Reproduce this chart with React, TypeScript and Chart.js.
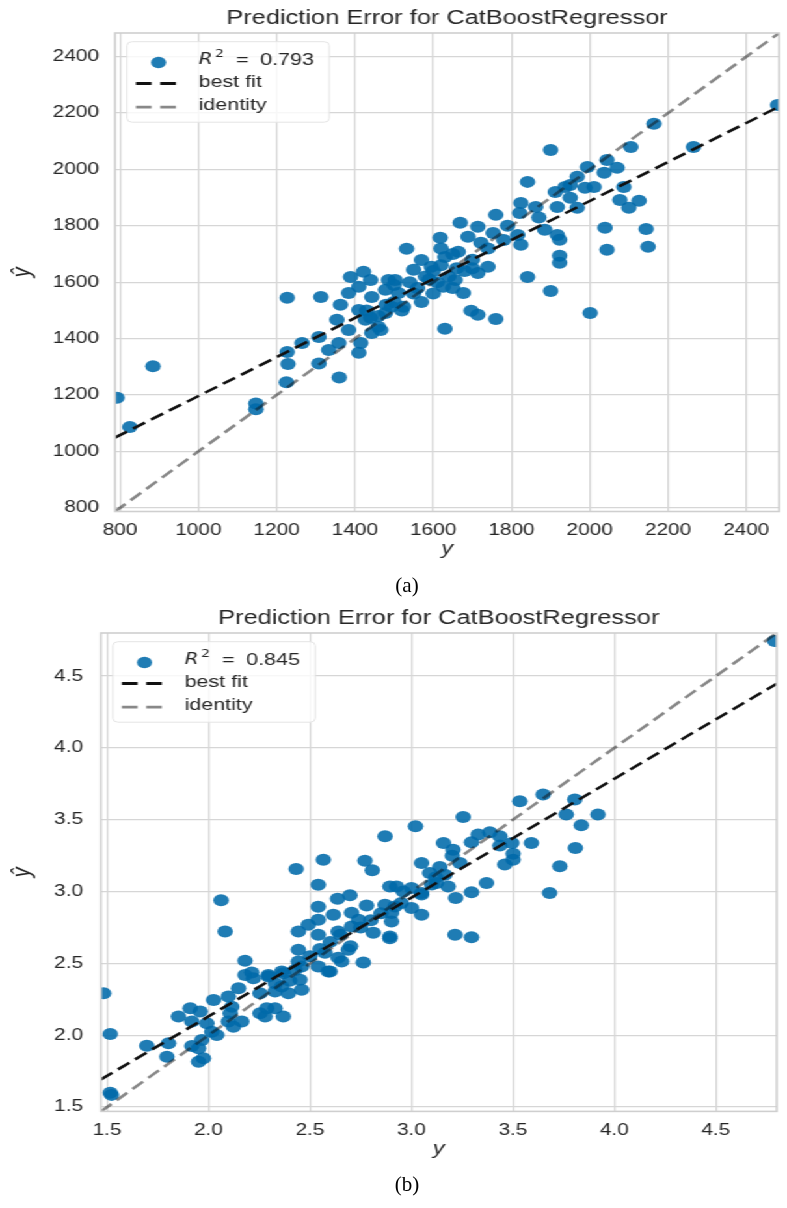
import React, { useEffect, useRef } from "react";
import { Chart, registerables } from "chart.js";

Chart.register(...registerables);

// ---------------- Panel (a) data ----------------
const aActual = [
  792, 825, 884, 1147, 1147, 1227, 1313, 1227, 1229, 1225, 1265, 1308, 1308, 1360, 1354, 1333, 1359, 1384, 1410, 1410,
  1415, 1389, 1422, 1384, 1363, 1410, 1443, 1440, 1478, 1486, 1503, 1440, 1460, 1443, 1478, 1493, 1427,
  1841, 1912, 1950, 1988, 2011, 2087, 2077, 2126, 2100, 1968, 1917, 1824, 1821, 1862, 1760, 1669, 1714, 1618, 1689,
  1753, 1816, 1885, 1917, 1923, 2039, 2144, 2044, 2149, 1923, 1923, 1532, 1570, 1595, 1550, 1630, 1664, 1722, 1740,
  1714, 1656, 1626, 1677, 1570, 1500, 1511, 1524, 1466, 1841, 1900, 2001, 1697, 1714, 1760, 1630, 1824,
  2164, 2105, 2265, 2480, 1900, 1994, 2044, 2070, 2037, 1968, 1937,
  1500, 1540, 1560, 1580, 1600, 1610, 1620, 1640, 1650, 1660, 1680, 1700, 1740, 1780, 1600, 1460, 1480, 1520, 1700,
  1650, 1590, 1790, 1870, 1950, 1430, 1550, 1620,
];
const aPredicted = [
  1190, 1087, 1302, 1170, 1150, 1545, 1548, 1353, 1310, 1245, 1385, 1406, 1312, 1262, 1467, 1360, 1385, 1431, 1502, 1350,
  1385, 1619, 1637, 1562, 1520, 1584, 1548, 1608, 1573, 1608, 1608, 1474, 1442, 1420, 1491, 1513, 1467,
  1956, 1920, 1945, 1935, 1938, 1938, 1892, 1889, 1864, 1864, 1867, 1881, 1846, 1867, 1839, 1811, 1797, 1758, 1761,
  1775, 1768, 1786, 1768, 1751, 1793, 1789, 1715, 1726, 1694, 1669, 1719, 1679, 1655, 1644, 1690, 1708, 1740, 1655,
  1633, 1608, 1584, 1562, 1530, 1590, 1562, 1513, 1431, 1619, 1569, 1491, 1499, 1485, 1470, 1435, 1733,
  2162, 2080, 2080, 2229, 2069, 2009, 2034, 2006, 1988, 1974, 1938,
  1530, 1600, 1580, 1620, 1640, 1600, 1660, 1620, 1580, 1650, 1640, 1680, 1720, 1750, 1560, 1480, 1520, 1500, 1650,
  1700, 1610, 1800, 1830, 1900, 1500, 1560, 1720,
];
const aBestFitX = [787, 2484];
const aBestFitY = [1049, 2223];
const aLimits = [787, 2484];
const aTicks = [800, 1000, 1200, 1400, 1600, 1800, 2000, 2200, 2400];
const aR2 = "0.793";

// ---------------- Panel (b) data ----------------
const bActual = [
  2.062, 2.082, 2.432, 2.566, 2.541, 2.541, 2.541, 2.870, 2.771, 2.807, 2.636, 2.697, 2.615, 2.705, 2.779, 2.894,
  2.443, 2.541, 2.492, 2.639, 2.705, 2.739, 2.812, 2.894, 2.763, 2.443, 2.180, 2.213, 2.443, 2.599, 2.541, 2.689,
  2.574, 2.639, 2.361, 2.295,
  3.534, 3.649, 3.805, 3.919, 3.763, 3.837, 3.255, 3.020, 3.158, 3.329, 3.386, 3.436, 3.296, 3.495, 3.591, 3.436,
  3.808, 3.205, 3.201, 3.501, 3.501, 3.460, 3.731, 3.050, 3.140, 3.239, 3.090, 3.165, 2.927, 3.000, 3.124, 3.181,
  3.050, 3.370, 3.296, 3.218, 3.681, 2.870, 2.919, 3.000, 3.050, 2.902, 2.902, 3.215, 3.296, 2.894,
  1.483, 1.516, 1.516, 1.522, 1.696, 1.803, 1.795, 1.852, 1.910, 1.918, 1.959, 1.992, 2.025, 2.016, 2.041, 1.918,
  1.951, 1.975, 1.951, 1.967, 2.098, 2.115, 2.107, 2.148, 2.098, 2.123, 2.164, 2.180, 2.221, 2.254, 2.287, 2.279,
  2.328, 2.369, 2.254, 2.295, 2.328, 2.361, 2.394, 2.369, 2.427, 2.459, 2.451, 2.459, 2.590, 2.656, 4.790,
  2.55, 2.60, 2.65, 2.70, 2.75, 2.80, 2.85, 2.95, 3.05, 3.10, 2.50, 2.40, 2.33, 2.96, 3.12,
];
const bPredicted = [
  2.939, 2.722, 3.158, 3.222, 3.048, 2.895, 2.804, 3.385, 3.215, 3.148, 2.950, 2.974, 2.839, 2.853, 2.904, 3.036,
  2.722, 2.699, 2.769, 2.722, 2.757, 2.804, 2.713, 2.688, 2.506, 2.595, 2.518, 2.437, 2.513, 2.443, 2.478, 2.595,
  2.574, 2.539, 2.443, 2.420,
  3.629, 3.676, 3.641, 3.536, 3.536, 3.462, 3.520, 3.455, 3.339, 3.397, 3.413, 3.385, 3.343, 3.339, 3.339, 3.320,
  3.304, 3.292, 3.250, 3.264, 3.222, 3.188, 3.176, 3.199, 3.171, 3.199, 3.130, 3.118, 3.036, 3.025, 3.060, 3.036,
  2.990, 3.060, 2.995, 2.955, 2.990, 2.909, 2.897, 2.886, 2.839, 2.851, 2.792, 2.699, 2.683, 2.676,
  2.293, 2.009, 1.600, 1.585, 1.927, 1.944, 1.851, 2.130, 2.188, 2.095, 2.165, 2.084, 2.246, 2.025, 2.002, 1.925,
  1.909, 1.840, 1.816, 1.967, 2.269, 2.199, 2.153, 2.328, 2.095, 2.060, 2.095, 2.420, 2.397, 2.153, 2.188, 2.130,
  2.188, 2.130, 2.293, 2.409, 2.304, 2.339, 2.293, 2.432, 2.455, 2.316, 2.386, 2.478, 2.443, 2.513, 4.745,
  2.60, 2.65, 2.70, 2.62, 2.75, 2.80, 2.85, 2.92, 2.98, 3.05, 2.55, 2.38, 2.36, 3.00, 3.10,
];
const bBestFitX = [1.47, 4.8];
const bBestFitY = [1.693, 4.447];
const bLimits = [1.47, 4.8];
const bTicks = [1.5, 2.0, 2.5, 3.0, 3.5, 4.0, 4.5];
const bR2 = "0.845";

const TITLE = "Prediction Error for CatBoostRegressor";
const X_TITLE = "y";
const Y_TITLE = "\u0177";

// ---------------- styling / geometry ----------------
const PAGE_W = 787;
const PAGE_H = 1208;
const CANVAS_W = 605;
const CANVAS_H = 565;
const STRETCH = PAGE_W / CANVAS_W;
const X_AXIS_H = 50;

const FONT = "'Liberation Sans', Arial, sans-serif";
const TEXT_COLOR = "#262626";
const GRID_COLOR = "#d6d6d6";
const FRAME_COLOR = "#cfcfcf";
const POINT_COLOR = "rgba(0,106,170,0.88)";
const POINT_R = 6;
const FIT_COLOR = "#111111";
const IDENT_COLOR = "rgba(17,17,17,0.5)";

const LEGEND = {
  box: [9.2, 8.7, 155.5, 80.5],
  marker: [33.5, 29.5],
  markerR: 5.8,
  textX: 64.3,
  rows: [27, 49.7, 72.9],
  lines: [50.5, 74.2],
  sampleX: [16.1, 46.8],
  sup: 12.5,
  eq: 28.8,
  val: 47.4,
};

type Panel = {
  top: number;
  actual: number[];
  predicted: number[];
  fitX: number[];
  fitY: number[];
  limits: number[];
  ticks: number[];
  decimals: number;
  r2: string;
  area: { left: number; right: number; bottom: number };
  yGap: number;
};

const panelA: Panel = {
  top: 0,
  actual: aActual,
  predicted: aPredicted,
  fitX: aBestFitX,
  fitY: aBestFitY,
  limits: aLimits,
  ticks: aTicks,
  decimals: 0,
  r2: aR2,
  area: { left: 88.4, right: 602, bottom: 511.5 },
  yGap: 2.3,
};

const panelB: Panel = {
  top: 600.3,
  actual: bActual,
  predicted: bPredicted,
  fitX: bBestFitX,
  fitY: bBestFitY,
  limits: bLimits,
  ticks: bTicks,
  decimals: 1,
  r2: bR2,
  area: { left: 77.6, right: 597.1, bottom: 511.4 },
  yGap: 3.8,
};

const framePlugin = {
  id: "frame",
  afterDatasetsDraw(chart: any) {
    const { ctx, chartArea: a } = chart;
    ctx.save();
    ctx.strokeStyle = FRAME_COLOR;
    ctx.lineWidth = 1.6;
    ctx.strokeRect(a.left, a.top, a.right - a.left, a.bottom - a.top);
    ctx.restore();
  },
};

function roundRectPath(ctx: CanvasRenderingContext2D, x: number, y: number, w: number, h: number, r: number) {
  ctx.beginPath();
  ctx.moveTo(x + r, y);
  ctx.lineTo(x + w - r, y);
  ctx.arcTo(x + w, y, x + w, y + r, r);
  ctx.lineTo(x + w, y + h - r);
  ctx.arcTo(x + w, y + h, x + w - r, y + h, r);
  ctx.lineTo(x + r, y + h);
  ctx.arcTo(x, y + h, x, y + h - r, r);
  ctx.lineTo(x, y + r);
  ctx.arcTo(x, y, x + r, y, r);
  ctx.closePath();
}

const legendPlugin = {
  id: "innerLegend",
  afterDatasetsDraw(chart: any, _args: any, opts: any) {
    const { ctx, chartArea: a } = chart;
    const L = LEGEND;
    const ds = chart.data.datasets;
    const ox = a.left;
    const oy = a.top;
    ctx.save();
    roundRectPath(ctx, ox + L.box[0], oy + L.box[1], L.box[2], L.box[3], 4);
    ctx.fillStyle = "rgba(255,255,255,0.8)";
    ctx.fill();
    ctx.strokeStyle = "#e4e4e4";
    ctx.lineWidth = 1;
    ctx.stroke();

    // scatter marker
    const pointDs = ds.find((d: any) => d.kind === "points");
    ctx.fillStyle = pointDs.backgroundColor;
    ctx.beginPath();
    ctx.arc(ox + L.marker[0], oy + L.marker[1], L.markerR, 0, Math.PI * 2);
    ctx.fill();

    ctx.fillStyle = TEXT_COLOR;
    ctx.textBaseline = "middle";
    ctx.textAlign = "left";
    const tx = ox + L.textX;
    // R^2 = value
    ctx.font = "italic 15.5px 'DejaVu Sans', sans-serif";
    ctx.fillText("R", tx, oy + L.rows[0]);
    ctx.font = "11px 'DejaVu Sans', sans-serif";
    ctx.fillText("2", tx + L.sup, oy + L.rows[0] - 6);
    ctx.font = `16.5px ${FONT}`;
    ctx.fillText("=", tx + L.eq, oy + L.rows[0]);
    ctx.fillText(opts.r2, tx + L.val, oy + L.rows[0]);

    // line entries
    const lineDs = ds.filter((d: any) => d.kind === "line");
    lineDs.forEach((d: any, i: number) => {
      const ly = oy + L.lines[i];
      ctx.save();
      ctx.strokeStyle = d.borderColor;
      ctx.lineWidth = 2.8;
      ctx.setLineDash([12, 6.7]);
      ctx.beginPath();
      ctx.moveTo(ox + L.sampleX[0], ly);
      ctx.lineTo(ox + L.sampleX[1], ly);
      ctx.stroke();
      ctx.restore();
      ctx.fillStyle = TEXT_COLOR;
      ctx.font = `16.5px ${FONT}`;
      ctx.fillText(d.label, tx, oy + L.rows[i + 1]);
    });
    ctx.restore();
  },
};

function buildConfig(p: Panel): any {
  const points = p.actual.map((x, i) => ({ x, y: p.predicted[i] }));
  const fit = p.fitX.map((x, i) => ({ x, y: p.fitY[i] }));
  const ident = p.limits.map((v) => ({ x: v, y: v }));
  const tickFont = { family: FONT, size: 16, lineHeight: 1 };
  const setTicks = (s: any) => {
    s.ticks = p.ticks.map((v) => ({ value: v }));
  };
  const fmt = (v: any) => Number(v).toFixed(p.decimals);
  return {
    type: "scatter",
    data: {
      datasets: [
        {
          kind: "line",
          label: "best fit",
          data: fit,
          showLine: true,
          borderColor: FIT_COLOR,
          borderWidth: 2.6,
          borderDash: [11, 5.5],
          pointRadius: 0,
          pointHoverRadius: 0,
          order: 0,
          clip: 0,
        },
        {
          kind: "line",
          label: "identity",
          data: ident,
          showLine: true,
          borderColor: IDENT_COLOR,
          borderWidth: 2.6,
          borderDash: [11, 5.5],
          pointRadius: 0,
          pointHoverRadius: 0,
          order: 1,
          clip: 0,
        },
        {
          kind: "points",
          label: "R2 = " + p.r2,
          data: points,
          backgroundColor: POINT_COLOR,
          borderWidth: 0,
          pointBorderWidth: 0,
          pointRadius: POINT_R,
          pointHoverRadius: POINT_R,
          order: 2,
          clip: 0,
        },
      ],
    },
    options: {
      responsive: false,
      animation: false,
      devicePixelRatio: 1,
      events: [],
      layout: {
        padding: {
          left: 0,
          top: 0,
          right: CANVAS_W - p.area.right,
          bottom: CANVAS_H - p.area.bottom - X_AXIS_H,
        },
      },
      plugins: {
        legend: { display: false },
        tooltip: { enabled: false },
        title: {
          display: true,
          text: TITLE,
          fullSize: false,
          color: TEXT_COLOR,
          font: { family: FONT, size: 19.5, weight: "normal", lineHeight: 1.2 },
          padding: { top: 6.6, bottom: 3.0 },
        },
        innerLegend: { r2: p.r2 },
      },
      scales: {
        x: {
          type: "linear",
          position: "bottom",
          min: p.limits[0],
          max: p.limits[1],
          afterBuildTicks: setTicks,
          afterFit: (s: any) => {
            s.height = X_AXIS_H;
          },
          border: { display: false },
          grid: {
            color: GRID_COLOR,
            lineWidth: 1.3,
            drawTicks: true,
            tickLength: 9,
            tickColor: "rgba(0,0,0,0)",
          },
          ticks: {
            padding: 2,
            font: tickFont,
            color: TEXT_COLOR,
            maxRotation: 0,
            autoSkip: false,
            callback: fmt,
          },
          title: {
            display: true,
            text: X_TITLE,
            color: TEXT_COLOR,
            font: { family: FONT, size: 18, style: "italic", lineHeight: 1.2 },
            padding: { top: 0, bottom: 1.8 },
          },
        },
        y: {
          type: "linear",
          position: "left",
          min: p.limits[0],
          max: p.limits[1],
          afterBuildTicks: setTicks,
          afterFit: (s: any) => {
            s.width = p.area.left;
          },
          border: { display: false },
          grid: {
            color: GRID_COLOR,
            lineWidth: 1.3,
            drawTicks: true,
            tickLength: 10,
            tickColor: "rgba(0,0,0,0)",
          },
          ticks: {
            padding: p.yGap,
            font: tickFont,
            color: TEXT_COLOR,
            autoSkip: false,
            callback: fmt,
          },
          title: {
            display: true,
            text: Y_TITLE,
            color: TEXT_COLOR,
            font: { family: FONT, size: 20, style: "italic", lineHeight: 1.1 },
            padding: { top: 6, bottom: 0 },
          },
        },
      },
    },
    plugins: [framePlugin, legendPlugin],
  };
}

function PanelChart({ panel }: { panel: Panel }) {
  const ref = useRef<HTMLCanvasElement | null>(null);
  useEffect(() => {
    if (!ref.current) return;
    const chart = new Chart(ref.current, buildConfig(panel));
    return () => chart.destroy();
  }, [panel]);
  return (
    <canvas
      ref={ref}
      width={CANVAS_W}
      height={CANVAS_H}
      style={{
        position: "absolute",
        left: 0,
        top: panel.top,
        width: CANVAS_W,
        height: CANVAS_H,
        display: "block",
      }}
    />
  );
}

const captionStyle = (centerY: number): React.CSSProperties => ({
  position: "absolute",
  left: 357,
  width: 100,
  top: centerY - 12,
  height: 24,
  lineHeight: "24px",
  textAlign: "center",
  fontFamily: "'Liberation Serif', 'Times New Roman', serif",
  fontSize: 21,
  color: "#000",
});

export default function App() {
  return (
    <div
      style={{
        position: "absolute",
        left: 0,
        top: 0,
        width: PAGE_W,
        height: PAGE_H,
        background: "#ffffff",
        overflow: "hidden",
      }}
    >
      <div
        style={{
          position: "absolute",
          left: 0,
          top: 0,
          width: CANVAS_W,
          height: PAGE_H,
          transform: `scaleX(${STRETCH})`,
          transformOrigin: "0 0",
        }}
      >
        <PanelChart panel={panelA} />
        <PanelChart panel={panelB} />
      </div>
      <div style={captionStyle(585)}>(a)</div>
      <div style={captionStyle(1184)}>(b)</div>
    </div>
  );
}
